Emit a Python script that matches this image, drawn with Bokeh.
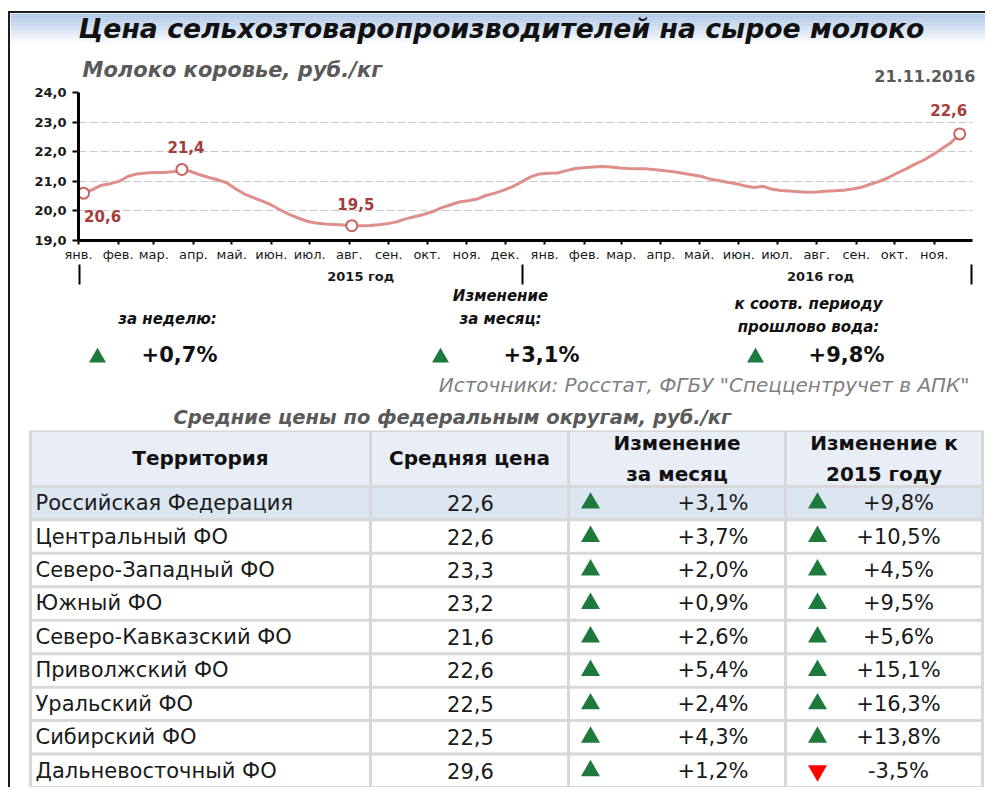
import pandas as pd
from bokeh.plotting import figure
from bokeh.layouts import column
from bokeh.models import Range1d, FixedTicker, LinearAxis, ColumnDataSource
from bokeh.core.properties import value
from bokeh.embed import file_html
from bokeh.resources import INLINE

# ---------------- data ----------------
title_text = "Цена сельхозтоваропроизводителей на сырое молоко"
subtitle_text = "Молоко коровье, руб./кг"
date_text = "21.11.2016"

first_week = "2015-01-05"          # weekly observations, Monday
price = [20.6, 20.72, 20.87, 20.92, 21.0, 21.17, 21.25, 21.28, 21.3, 21.3,
         21.32, 21.4, 21.33, 21.22, 21.13, 21.05, 20.95, 20.75, 20.57, 20.45,
         20.33, 20.2, 20.03, 19.88, 19.76, 19.65, 19.59, 19.56, 19.54, 19.52,
         19.5, 19.5, 19.51, 19.53, 19.57, 19.63, 19.73, 19.8, 19.88, 19.97,
         20.1, 20.2, 20.3, 20.34, 20.4, 20.52, 20.6, 20.7, 20.82, 20.98,
         21.15, 21.25, 21.27, 21.28, 21.36, 21.43, 21.46, 21.48, 21.5, 21.48,
         21.45, 21.43, 21.42, 21.42, 21.39, 21.36, 21.32, 21.27, 21.22, 21.17,
         21.08, 21.03, 20.97, 20.92, 20.84, 20.79, 20.83, 20.73, 20.69, 20.67,
         20.65, 20.63, 20.64, 20.66, 20.68, 20.7, 20.74, 20.8, 20.9, 21.0,
         21.12, 21.28, 21.42, 21.58, 21.72, 21.9, 22.1, 22.3, 22.6]
marked_weeks = [0, 11, 30, 98]

month_names = ["янв.", "фев.", "мар.", "апр.", "май.", "июн.",
               "июл.", "авг.", "сен.", "окт.", "ноя.", "дек."]
year_labels = ["2015 год", "2016 год"]
y_ticks = [19, 20, 21, 22, 23, 24]

summary_labels = ["за неделю:", "Изменение\nза месяц:", "к соотв. периоду\nпрошлово вода:"]
summary_changes = [0.7, 3.1, 9.8]

source_text = 'Источники: Росстат, ФГБУ "Спеццентручет в АПК"'
table_title = "Средние цены по федеральным округам, руб./кг"
col_headers = ["Территория", "Средняя цена", "Изменение\nза месяц", "Изменение к\n2015 году"]
territories = ["Российская Федерация", "Центральный ФО", "Северо-Западный ФО",
               "Южный ФО", "Северо-Кавказский ФО", "Приволжский ФО",
               "Уральский ФО", "Сибирский ФО", "Дальневосточный ФО"]
avg_price = [22.6, 22.6, 23.3, 23.2, 21.6, 22.6, 22.5, 22.5, 29.6]
change_month = [3.1, 3.7, 2.0, 0.9, 2.6, 5.4, 2.4, 4.3, 1.2]
change_2015 = [9.8, 10.5, 4.5, 9.5, 5.6, 15.1, 16.3, 13.8, -3.5]


def fmt(v):
    return f"{v:.1f}".replace(".", ",")


def pct(v):
    return ("+" if v > 0 else "") + fmt(v) + "%"


FONT = value("DejaVu Sans")
GREEN = "#1e7a3c"
RED = "#ff0000"
W = 975
H_HEAD, H_CHART, H_SUM, H_TAB = 73, 200, 144, 357


def blank(h, y_range=None):
    f = figure(width=W, height=h, x_range=Range1d(0, W),
               y_range=y_range if y_range is not None else Range1d(h, 0),
               x_axis_location=None, y_axis_location=None,
               output_backend="svg", toolbar_location=None, min_border=0,
               frame_align=False)
    f.grid.visible = False
    f.outline_line_color = None
    f.background_fill_color = "white"
    f.border_fill_color = "white"
    return f


# ---------------- header ----------------
ph = blank(H_HEAD)
n_grad = 16
c0 = (167, 193, 228)
tops, bots, cols = [], [], []
for k in range(n_grad):
    t = k / (n_grad - 1)
    r, g, b = [int(round(c + (255 - c) * t)) for c in c0]
    tops.append(k * 2.0)
    bots.append(k * 2.0 + 2.0)
    cols.append(f"#{r:02x}{g:02x}{b:02x}")
ph.quad(left=0, right=W, top=tops, bottom=bots, fill_color=cols, line_color=None)
ph.text(x=[491], y=[15], text=[title_text], text_font=FONT, text_font_style="bold italic",
        text_font_size="26.7px", text_align="center", text_baseline="middle", text_color="#111111")
ph.text(x=[72], y=[56], text=[subtitle_text], text_font=FONT, text_font_style="bold italic",
        text_font_size="21px", text_align="left", text_baseline="middle", text_color="#5a5a5a")
ph.text(x=[965], y=[62], text=[date_text], text_font=FONT, text_font_style="bold",
        text_font_size="16px", text_align="right", text_baseline="middle", text_color="#5a5a5a")

# ---------------- line chart ----------------
start = pd.Timestamp("2015-01-01")
weeks = pd.date_range(first_week, periods=len(price), freq="7D")
days = [int(d) for d in (weeks - start).days]
month_starts = pd.date_range("2015-01-01", "2016-11-01", freq="MS")
tick_days = [int(d) for d in (month_starts - start).days]
year_label_days = [221, 581]
separator_days = [1, 348, 699]

pc = figure(width=W, height=H_CHART, x_range=Range1d(0, 700), y_range=Range1d(19, 24),
            output_backend="svg", toolbar_location=None, frame_align=False,
            min_border_left=68, min_border_right=13, min_border_top=6, min_border_bottom=46)
pc.outline_line_color = None
pc.background_fill_color = "white"
pc.border_fill_color = "white"
pc.xgrid.visible = False
pc.ygrid.ticker = FixedTicker(ticks=y_ticks)
pc.ygrid.grid_line_color = "#c8c8c8"
pc.ygrid.grid_line_dash = "8 3"

pc.line(days, price, line_color="#de8f8c", line_width=3)
msrc = ColumnDataSource(dict(
    x=[days[i] for i in marked_weeks],
    y=[price[i] for i in marked_weeks],
    lab=[fmt(price[i]) for i in marked_weeks],
    dx=[19, 4, 4, -11],
    dy=[23, -22, -22, -24],
))
pc.scatter("x", "y", source=msrc, marker="circle", size=11, fill_color="white",
           line_color="#c8625e", line_width=2)
pc.text("x", "y", text="lab", source=msrc, x_offset="dx", y_offset="dy",
        text_font=FONT, text_font_style="bold", text_font_size="15px",
        text_align="center", text_baseline="middle", text_color="#a63c3c")

xa = pc.xaxis[0]
xa.ticker = FixedTicker(ticks=tick_days)
xa.major_label_overrides = {d: month_names[m.month - 1] for d, m in zip(tick_days, month_starts)}
xa.axis_line_width = 3
xa.axis_line_color = "black"
xa.major_tick_out = 4
xa.major_tick_in = 0
xa.major_tick_line_width = 2
xa.minor_tick_line_color = None
xa.major_label_standoff = 2
xa.major_label_text_font = "DejaVu Sans"
xa.major_label_text_font_size = "13px"
xa.major_label_text_color = "#1a1a1a"

ya = pc.yaxis[0]
ya.ticker = FixedTicker(ticks=y_ticks)
ya.major_label_overrides = {t: fmt(t) for t in y_ticks}
ya.axis_line_width = 3
ya.axis_line_color = "black"
ya.major_tick_out = 6
ya.major_tick_in = 0
ya.major_tick_line_width = 2
ya.minor_tick_line_color = None
ya.major_label_standoff = 6
ya.major_label_text_font = "DejaVu Sans"
ya.major_label_text_font_style = "bold"
ya.major_label_text_font_size = "13px"
ya.major_label_text_color = "#1a1a1a"

year_axis = LinearAxis(
    ticker=FixedTicker(ticks=year_label_days, minor_ticks=separator_days),
    major_label_overrides={d: t for d, t in zip(year_label_days, year_labels)},
    axis_line_color=None, major_tick_out=0, major_tick_in=0,
    minor_tick_out=20, minor_tick_in=0, minor_tick_line_color="black", minor_tick_line_width=2,
    major_label_standoff=-16, major_label_text_font="DejaVu Sans",
    major_label_text_font_style="bold", major_label_text_font_size="13px",
    major_label_text_color="#1a1a1a")
pc.add_layout(year_axis, "below")

# ---------------- summary ----------------
ps = blank(H_SUM)
grp_x = [157, 490, 798]
lab_y = [32, 21, 29]
tri_x = [87, 430, 745]
val_x = [169, 531, 836]
ps.text(x=grp_x, y=lab_y, text=summary_labels, text_font=FONT, text_font_style="bold italic",
        text_font_size="15px", text_align="center", text_baseline="middle",
        text_line_height=1.3, text_color="#111111")
ps.scatter(x=tri_x, y=[71] * 3, marker=["triangle" if v >= 0 else "inverted_triangle" for v in summary_changes],
           size=17, fill_color=[GREEN if v >= 0 else RED for v in summary_changes], line_color=None)
ps.text(x=val_x, y=[68] * 3, text=[pct(v) for v in summary_changes], text_font=FONT,
        text_font_style="bold", text_font_size="21px", text_align="center",
        text_baseline="middle", text_color="#111111")
ps.text(x=[959], y=[98], text=[source_text], text_font=FONT, text_font_style="italic",
        text_font_size="20px", text_align="right", text_baseline="middle", text_color="#7f7f7f")
ps.text(x=[163], y=[131], text=[table_title], text_font=FONT, text_font_style="bold italic",
        text_font_size="19.5px", text_align="left", text_baseline="middle", text_color="#5a5a5a")

# ---------------- table ----------------
n = len(territories)
hdr = 1.67
pt = blank(H_TAB, y_range=Range1d(n, -hdr))
col_x = [20, 360, 558, 775, 972]
pt.quad(left=col_x[0], right=col_x[-1], top=-hdr, bottom=0, fill_color="#e9eef6", line_color=None)
pt.quad(left=col_x[0], right=col_x[-1], top=0, bottom=1, fill_color="#dce6f1", line_color=None)
rows_y = [i + 0.5 for i in range(n)]
h_lines = [-hdr] + list(range(n + 1))
pt.segment(x0=col_x[0], x1=col_x[-1], y0=h_lines, y1=h_lines, line_color="#d8d8d8", line_width=3)
pt.segment(x0=col_x, x1=col_x, y0=-hdr, y1=n, line_color="#d8d8d8", line_width=3)

hx = [(col_x[i] + col_x[i + 1]) / 2 for i in range(4)]
pt.text(x=hx, y=[-hdr / 2] * 4, text=col_headers, text_font=FONT, text_font_style="bold",
        text_font_size="20px", text_align="center", text_baseline="middle",
        text_line_height=1.3, text_color="#111111")
pt.text(x=[25] * n, y=rows_y, text=territories, text_font=FONT, text_font_size="21px",
        text_align="left", text_baseline="middle", text_color="#1a1a1a")
pt.text(x=[460] * n, y=rows_y, text=[fmt(v) for v in avg_price], text_font=FONT,
        text_font_size="21px", text_align="center", text_baseline="middle", text_color="#1a1a1a")
pt.scatter(x=[580] * n, y=rows_y, marker=["triangle" if v >= 0 else "inverted_triangle" for v in change_month],
           size=19, fill_color=[GREEN if v >= 0 else RED for v in change_month], line_color=None)
pt.text(x=[738] * n, y=rows_y, text=[pct(v) for v in change_month], text_font=FONT,
        text_font_size="21px", text_align="right", text_baseline="middle", text_color="#1a1a1a")
pt.scatter(x=[807] * n, y=rows_y, marker=["triangle" if v >= 0 else "inverted_triangle" for v in change_2015],
           size=19, fill_color=[GREEN if v >= 0 else RED for v in change_2015], line_color=None)
pt.text(x=[888] * n, y=rows_y, text=[pct(v) for v in change_2015], text_font=FONT,
        text_font_size="21px", text_align="center", text_baseline="middle", text_color="#1a1a1a")

layout = column(ph, pc, ps, pt, spacing=0, margin=(11, 0, 0, 8),
                styles={"border-left": "2px solid #1c1c1c", "border-top": "2px solid #1c1c1c"})

with open("out.html", "w") as fh:
    fh.write(file_html(layout, INLINE))
